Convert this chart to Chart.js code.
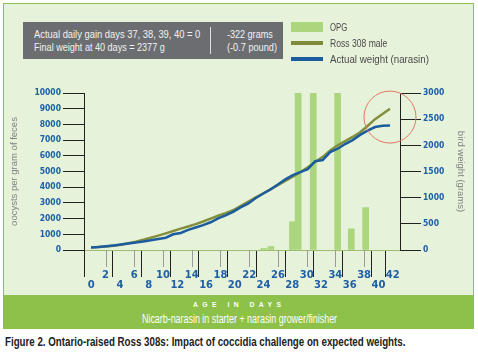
<!DOCTYPE html>
<html>
<head>
<meta charset="utf-8">
<script src="https://cdn.jsdelivr.net/npm/chart.js@4/dist/chart.umd.min.js"></script>
<style>
  body { margin: 0; width: 478px; height: 353px; background: #fff; position: relative; overflow: hidden; font-family: "Liberation Sans", sans-serif; }
  .frame { position: absolute; left: 3px; top: 3px; width: 471px; height: 326px; box-sizing: border-box; border: 1.5px solid #8dc152; background: #e7f2da; }
  .band { position: absolute; left: 3px; top: 295px; width: 471px; height: 34px; background: #8dc149; color: #fff; }
  .fit { position: absolute; white-space: nowrap; transform-origin: 0 50%; }
  .band .t1 { top: 5px; font-weight: bold; font-size: 8px; letter-spacing: 5.2px; line-height: 10px; }
  .band .t2 { top: 17px; font-size: 12px; line-height: 14px; }
  .caption { top: 335px; left: 5px; font-weight: bold; font-size: 12px; color: #222; }
  canvas { position: absolute; left: 0; top: 0; }
  .note { position: absolute; left: 23px; top: 22px; width: 260px; height: 37px; background: #6c6d70; color: #f2f2f2; font-size: 11px; line-height: 12.5px; }
  .note .div { position: absolute; left: 187px; top: 5px; width: 1px; height: 27px; background: #e0e0e0; }
  .legend { position: absolute; left: 291px; top: 20px; font-size: 11px; color: #4a4a4a; }
  .legend .sw { position: absolute; left: 0; width: 32px; }
  .legend .fit { left: 39px; line-height: 14px; }
</style>
</head>
<body>
<div class="frame"></div>
<div class="band">
  <div class="fit t1" data-w="92" data-cx="236">AGE IN DAYS</div>
  <div class="fit t2" data-w="195" data-cx="236">Nicarb-narasin in starter + narasin grower/finisher</div>
</div>
<div class="fit caption" data-w="400">Figure 2. Ontario-raised Ross 308s: Impact of coccidia challenge on expected weights.</div>
<canvas id="chart" width="478" height="295"></canvas>
<div class="note">
  <div class="fit" style="left:11px;top:6px" data-w="166">Actual daily gain days 37, 38, 39, 40 = 0</div>
  <div class="fit" style="left:11px;top:18.5px" data-w="131">Final weight at 40 days = 2377 g</div>
  <div class="div"></div>
  <div class="fit" style="left:204px;top:6px" data-w="46">-322 grams</div>
  <div class="fit" style="left:204px;top:18.5px" data-w="50">(-0.7 pound)</div>
</div>
<div class="legend">
  <div class="sw" style="top:2px;height:10px;background:#abd67e"></div>
  <div class="fit" style="top:0px" data-w="17">OPG</div>
  <div class="sw" style="top:21px;height:4px;background:#7f8a3a"></div>
  <div class="fit" style="top:16px" data-w="57">Ross 308 male</div>
  <div class="sw" style="top:37px;height:4px;background:#1b5c9e"></div>
  <div class="fit" style="top:32px" data-w="99">Actual weight (narasin)</div>
</div>
<script>
// days of age for the weight lines
const days = [0, 1, 2, 3, 4, 5, 6, 7, 8, 9, 10, 11, 12, 13, 14, 15, 16, 17, 18, 19, 20,
  21, 22, 23, 24, 25, 26, 27, 28, 29, 30, 31, 32, 33, 34, 35, 36, 37, 38, 39, 40];
const rossMale = [50, 58, 68, 82, 100, 130, 160, 195, 235, 275, 318, 362, 408, 450, 495, 545, 600, 655, 705, 760, 840,
  920, 1000, 1080, 1160, 1240, 1320, 1400, 1485, 1580, 1680, 1780, 1900, 2000, 2080, 2160, 2250, 2370, 2500, 2600, 2699];
const actualWeight = [50, 56, 70, 86, 105, 125, 145, 162, 185, 212, 235, 300, 325, 385, 430, 475, 530, 605, 660, 730, 815,
  885, 990, 1075, 1155, 1250, 1350, 1430, 1487, 1545, 1696, 1720, 1870, 1935, 2025, 2100, 2200, 2280, 2350, 2372, 2377];

// oocysts per gram (bars)
const opgDays = [23.6, 24.6, 27.6, 28.4, 30.5, 33.9, 35.8, 37.8];
const opgValues = [100, 220, 1800, 10000, 10000, 10000, 1350, 2700];

// squeeze html text to the narrow widths of the original
document.querySelectorAll('.fit').forEach((el) => {
  const w = +el.getAttribute('data-w');
  const sx = w / el.offsetWidth;
  el.style.transform = 'scaleX(' + sx + ')';
  if (el.hasAttribute('data-cx')) el.style.left = (+el.getAttribute('data-cx') - w / 2) + 'px';
});

const tickBlue = '#1f5fa6';
const narrow = "'DejaVu Sans Condensed', 'Liberation Sans Narrow', 'Liberation Sans', sans-serif";

const circlePlugin = {
  id: 'circle',
  afterDatasetsDraw(chart) {
    const x = chart.scales.xl.getPixelForValue(days[days.length - 1]);
    const y = chart.scales.yR.getPixelForValue(2540);
    const ctx = chart.ctx;
    ctx.save();
    ctx.strokeStyle = '#e07868';
    ctx.lineWidth = 1;
    ctx.beginPath();
    ctx.arc(x, y, 26, 0, Math.PI * 2);
    ctx.stroke();
    ctx.restore();
  }
};

// short light ticks for 2, 6, 10 ...
const shortTicks = {
  id: 'shortTicks',
  afterDraw(chart) {
    const sc = chart.scales.x;
    const ctx = chart.ctx;
    ctx.save();
    ctx.strokeStyle = '#9a9a9a';
    ctx.lineWidth = 1;
    sc.ticks.forEach((t, i) => {
      if (i % 2 === 1 && t.value !== 42) {
        const px = Math.round(sc.getPixelForTick(i)) + 0.5;
        ctx.beginPath();
        ctx.moveTo(px, sc.top);
        ctx.lineTo(px, sc.top + 17);
        ctx.stroke();
      }
    });
    ctx.restore();
  }
};

new Chart(document.getElementById('chart'), {
  data: {
    datasets: [
      {
        type: 'line',
        label: 'Actual weight (narasin)',
        data: days.map((d, i) => ({ x: d, y: actualWeight[i] })),
        xAxisID: 'xl', yAxisID: 'yR',
        borderColor: '#1b5c9e', borderWidth: 2.5, pointRadius: 0, tension: 0
      },
      {
        type: 'line',
        label: 'Ross 308 male',
        data: days.map((d, i) => ({ x: d, y: rossMale[i] })),
        xAxisID: 'xl', yAxisID: 'yR',
        borderColor: '#838f3c', borderWidth: 2.5, pointRadius: 0, tension: 0
      },
      {
        type: 'bar',
        label: 'OPG',
        data: opgDays.map((d, i) => ({ x: d, y: opgValues[i] })),
        xAxisID: 'x', yAxisID: 'yL',
        backgroundColor: '#abd67e', barThickness: 6
      }
    ]
  },
  options: {
    responsive: false,
    animation: false,
    layout: { padding: { top: 93, left: 0, right: 0, bottom: 0 } },
    plugins: { legend: { display: false }, tooltip: { enabled: false } },
    scales: {
      x: {
        type: 'linear', position: 'bottom', min: 0, max: 42,
        afterFit: (s) => { s.height = 45; },
        border: { color: '#9cbf6f' },
        grid: {
          drawOnChartArea: false, tickLength: 27,
          tickColor: (c) => {
            const v = c.tick ? c.tick.value : 0;
            return (c.index % 2 === 0 || v === 42) ? '#222' : 'rgba(0,0,0,0)';
          }
        },
        ticks: {
          stepSize: 2, padding: -7, color: tickBlue, maxRotation: 0, autoSkip: false,
          font: { family: 'DejaVu Sans', weight: 'bold', size: 10, lineHeight: 1.05 },
          callback: (v, i) => i % 2 === 1 ? [String(v)] : ['', String(v)]
        }
      },
      xl: { type: 'linear', display: false, min: -0.94, max: 41.34 },
      yL: {
        type: 'linear', position: 'left', min: 0, max: 10000,
        afterFit: (s) => { s.width = 84; },
        border: { color: '#222' },
        grid: { drawOnChartArea: false, tickLength: 21, tickColor: '#222' },
        ticks: { stepSize: 1000, padding: 2, color: tickBlue, font: { family: narrow, weight: 'bold', size: 8.5 }, callback: (v) => String(v) },
        title: { display: true, text: 'oocysts per gram of feces', color: '#808080', padding: { top: 9, bottom: 0 }, font: { family: 'Liberation Sans', size: 9.5 } }
      },
      yR: {
        type: 'linear', position: 'right', min: 0, max: 3000,
        afterFit: (s) => { s.width = 78; },
        border: { color: '#222' },
        grid: { drawOnChartArea: false, tickLength: 21, tickColor: '#222' },
        ticks: { stepSize: 500, padding: 2, color: tickBlue, font: { family: narrow, weight: 'bold', size: 8.5 }, callback: (v) => String(v) },
        title: { display: true, text: 'bird weight (grams)', color: '#808080', padding: { top: 12, bottom: 0 }, font: { family: 'Liberation Sans', size: 9.5 } }
      }
    }
  },
  plugins: [circlePlugin, shortTicks]
});
</script>
</body>
</html>
